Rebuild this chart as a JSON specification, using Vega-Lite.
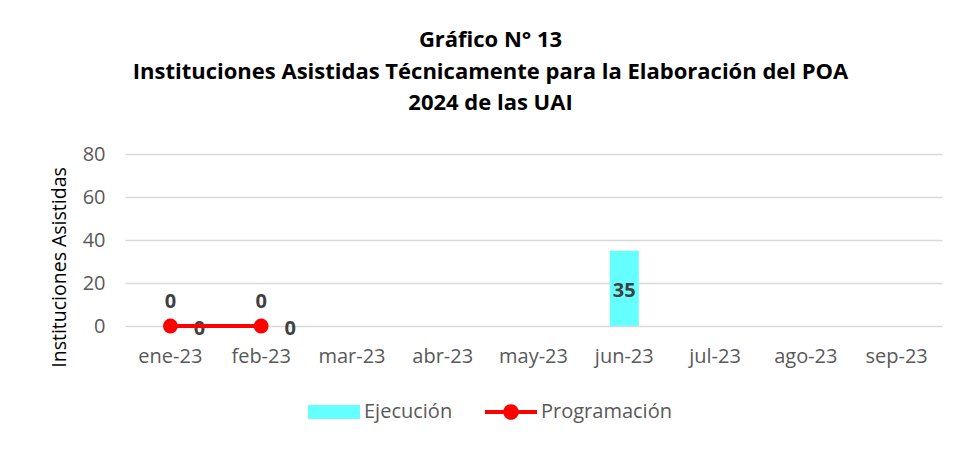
{
  "$schema": "https://vega.github.io/schema/vega-lite/v6.json",
  "autosize": {"type": "none"},
  "width": 817,
  "height": 172,
  "padding": {"left": 125, "top": 154, "right": 17, "bottom": 123},
  "background": "white",
  "title": {
    "text": ["Gráfico N° 13", "Instituciones Asistidas Técnicamente para la Elaboración del POA", "2024 de las UAI"],
    "font": "Open Sans",
    "fontSize": 22,
    "fontWeight": "bold",
    "color": "#000000",
    "lineHeight": 31.5,
    "anchor": "middle",
    "dx": -43,
    "offset": 29
  },
  "data": {
    "values": [
      {"mes": "ene-23", "serie": "Ejecución", "valor": 0},
      {"mes": "feb-23", "serie": "Ejecución", "valor": 0},
      {"mes": "jun-23", "serie": "Ejecución", "valor": 35},
      {"mes": "ene-23", "serie": "Programación", "valor": 0},
      {"mes": "feb-23", "serie": "Programación", "valor": 0}
    ]
  },
  "encoding": {
    "x": {
      "field": "mes",
      "type": "nominal",
      "sort": null,
      "scale": {"domain": ["ene-23", "feb-23", "mar-23", "abr-23", "may-23", "jun-23", "jul-23", "ago-23", "sep-23"], "paddingInner": 0.68, "paddingOuter": 0.34},
      "axis": {"title": null, "labelAngle": 0, "labelFont": "Open Sans", "labelFontSize": 20, "labelColor": "#595959", "labelPadding": 20, "ticks": false, "domain": false, "grid": false}
    },
    "y": {
      "field": "valor",
      "type": "quantitative",
      "scale": {"domain": [0, 80], "nice": false},
      "axis": {"title": "Instituciones Asistidas", "titleFont": "Open Sans", "titleFontSize": 19.5, "titleFontWeight": "normal", "titleColor": "#000000", "titlePadding": 13, "titleY": 113, "values": [0, 20, 40, 60, 80], "labelFont": "Open Sans", "labelFontSize": 20, "labelColor": "#595959", "labelPadding": 20, "ticks": false, "domain": false, "gridColor": "#D9D9D9", "gridWidth": 1.5}
    }
  },
  "layer": [
    {
      "transform": [{"filter": "datum.serie === 'Ejecución'"}],
      "mark": {"type": "bar"},
      "encoding": {
        "color": {
          "field": "serie",
          "type": "nominal",
          "scale": {"domain": ["Ejecución", "Programación"], "range": ["#66FFFF", "#FF0000"]},
          "legend": {
            "orient": "none",
            "legendX": 183,
            "legendY": 232,
            "direction": "horizontal",
            "title": null,
            "labelFont": "Open Sans",
            "labelFontSize": 20,
            "labelColor": "#595959",
            "labelOffset": 4,
            "symbolSize": 2704,
            "columnPadding": 32,
            "encode": {
              "symbols": {
                "update": {
                  "shape": {"signal": "datum.value === 'Ejecución' ? 'M-1,-0.27L1,-0.27L1,0.27L-1,0.27Z' : 'M-1,-0.08L1,-0.08L1,0.08L-1,0.08Z M-0.3,0 A0.3,0.3 0 1,1 0.3,0 A0.3,0.3 0 1,1 -0.3,0 Z'"},
                  "fill": {"scale": "color", "field": "value"},
                  "strokeWidth": {"value": 0},
                  "opacity": {"value": 1}
                }
              }
            }
          }
        }
      }
    },
    {
      "transform": [{"filter": "datum.serie === 'Ejecución' && datum.valor > 0"}],
      "mark": {"type": "text", "font": "Open Sans", "fontSize": 20, "fontWeight": "bold", "color": "#404040", "baseline": "middle"},
      "encoding": {
        "y": {"datum": 16.5},
        "text": {"field": "valor", "type": "quantitative"}
      }
    },
    {
      "transform": [{"filter": "datum.serie === 'Ejecución' && datum.valor == 0"}],
      "mark": {"type": "text", "font": "Open Sans", "fontSize": 20, "fontWeight": "bold", "color": "#404040", "baseline": "middle", "dx": 29, "dy": 3},
      "encoding": {
        "text": {"field": "valor", "type": "quantitative"}
      }
    },
    {
      "transform": [{"filter": "datum.serie === 'Programación'"}],
      "mark": {"type": "line", "color": "#FF0000", "strokeWidth": 4, "point": {"filled": true, "size": 220, "color": "#FF0000"}},
      "encoding": {}
    },
    {
      "transform": [{"filter": "datum.serie === 'Programación'"}],
      "mark": {"type": "text", "font": "Open Sans", "fontSize": 20, "fontWeight": "bold", "color": "#404040", "baseline": "middle", "dy": -24},
      "encoding": {
        "text": {"field": "valor", "type": "quantitative"}
      }
    }
  ],
  "config": {
    "view": {"stroke": null}
  }
}
